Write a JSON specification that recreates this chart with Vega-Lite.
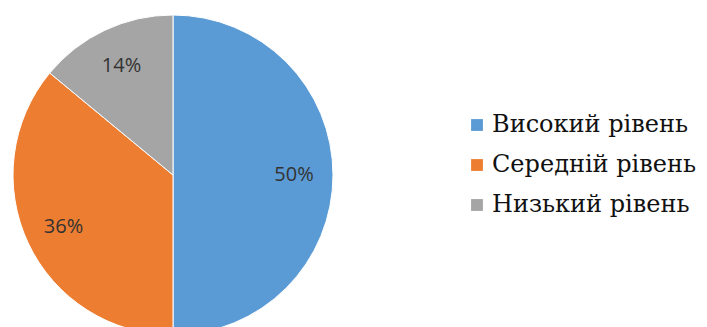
{
  "$schema": "https://vega.github.io/schema/vega-lite/v6.json",
  "width": 707,
  "height": 327,
  "autosize": "none",
  "padding": 0,
  "background": "white",
  "config": {"view": {"stroke": null}},
  "data": {"values": [
    {"level": "Високий рівень", "value": 50, "label": "50%", "order": 1},
    {"level": "Середній рівень", "value": 36, "label": "36%", "order": 2},
    {"level": "Низький рівень", "value": 14, "label": "14%", "order": 3}
  ]},
  "encoding": {
    "theta": {"field": "value", "type": "quantitative", "stack": true},
    "order": {"field": "order", "type": "quantitative"},
    "color": {
      "field": "level",
      "type": "nominal",
      "sort": ["Високий рівень", "Середній рівень", "Низький рівень"],
      "scale": {"domain": ["Високий рівень", "Середній рівень", "Низький рівень"], "range": ["#5B9BD5", "#ED7D31", "#A5A5A5"]},
      "legend": {
        "title": null,
        "orient": "none",
        "legendX": 465,
        "legendY": 113,
        "symbolType": "square",
        "symbolSize": 140,
        "symbolStrokeWidth": 0,
        "labelFont": "DejaVu Serif",
        "labelFontSize": 24,
        "labelFontWeight": "normal",
        "labelColor": "#111111",
        "labelOffset": 3,
        "rowPadding": 16,
        "labelLimit": 300
      }
    }
  },
  "layer": [
    {
      "mark": {"type": "arc", "x": 173, "y": 175, "outerRadius": 160, "stroke": "#ffffff", "strokeWidth": 1}
    },
    {
      "mark": {"type": "text", "x": 173, "y": 175, "radius": 121, "font": "Open Sans", "fontSize": 20, "fill": "#333333"},
      "encoding": {
        "text": {"field": "label", "type": "nominal"},
        "color": {"value": "#333333"}
      }
    }
  ]
}
